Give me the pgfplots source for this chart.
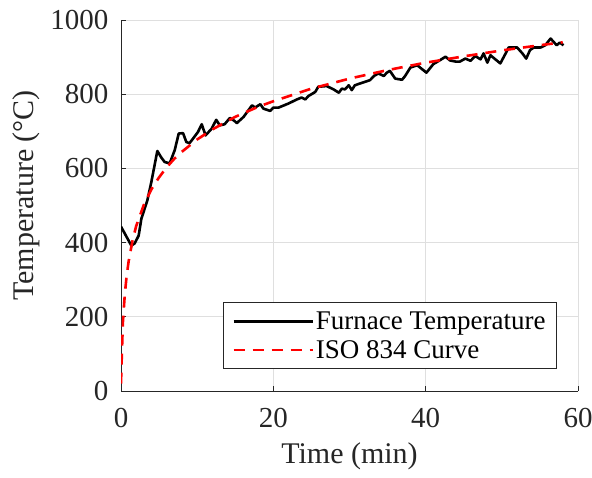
\documentclass[border=0pt]{standalone}
\usepackage{pgfplots}
\pgfplotsset{compat=1.18}
\usepackage{fontspec}
\setmainfont{Liberation Serif}
\definecolor{axgray}{HTML}{262626}
\definecolor{gridgray}{HTML}{DFDFDF}
\begin{document}
\begin{tikzpicture}
\begin{axis}[
  scale only axis,
  width=457pt, height=371pt,
  xmin=0, xmax=60, ymin=0, ymax=1000,
  xtick={0,20,40,60}, ytick={0,200,400,600,800,1000},
  axis x line*=bottom, axis y line*=left,
  axis line style={axgray, line width=0.9pt},
  tick align=inside,
  major tick length=5pt,
  tick style={axgray, line width=0.9pt},
  grid=major,
  major grid style={gridgray, line width=0.9pt},
  /pgf/number format/assume math mode=true,
  /pgf/number format/1000 sep={},
  ticklabel style={font=\fontsize{29}{34}\selectfont, text=axgray},
  xticklabel style={yshift=-14pt},
  yticklabel style={xshift=-9pt},
  label style={font=\fontsize{30}{36}\selectfont, text=axgray},
  xlabel={Time (min)},
  ylabel={Temperature (°C)},
  xlabel style={yshift=-8pt},
  ylabel style={yshift=4pt, xshift=10pt},
  legend style={at={(1,0)}, anchor=south east, xshift=-21pt, yshift=22pt,
    draw=axgray, line width=0.9pt, font=\fontsize{27}{30}\selectfont,
    inner xsep=9pt, inner ysep=7pt, row sep=5pt},
  legend cell align=left,
  legend image code/.code={\draw[#1] (0pt,0pt) -- (79pt,0pt);},
]
\addplot[black, line width=2.6pt, line join=round] coordinates {
(0,443) (1.36,392) (1.8,398) (2.32,419) (2.67,464) (3.46,514) (3.98,563)
(4.77,647) (5.3,629) (5.74,617) (6.4,614) (7.05,649) (7.58,694) (8.15,695)
(8.58,671) (9.0,668) (10.1,698) (10.6,719) (11.1,689) (11.9,707) (12.5,731)
(12.97,716) (13.6,719) (14.3,736) (14.9,728) (15.2,722) (16.1,739) (17.2,770)
(17.6,764) (18.3,773) (18.7,761) (19.6,755) (20.0,764) (20.7,764) (22.0,775)
(23.1,786) (23.7,791) (24.2,786) (24.6,795) (25.5,806) (25.9,820) (27.0,822)
(27.9,813) (28.6,804) (29.0,815) (29.4,813) (29.9,824) (30.3,811) (30.7,824)
(31.4,829) (32.7,838) (33.2,849) (33.8,856) (34.5,849) (34.9,858) (35.3,863)
(36.0,842) (36.9,839) (37.3,849) (38.0,872) (38.9,878) (40.1,858) (41.0,881)
(41.9,892) (42.6,901) (43.2,891) (43.9,888) (44.5,888) (45.2,896) (45.9,890)
(46.5,903) (47.2,894) (47.6,910) (48.1,885) (48.5,905) (49.8,883) (50.5,910)
(50.9,926) (52.0,926) (52.7,910) (53.2,896) (53.7,919) (54.2,926) (55.1,926)
(55.7,932) (56.4,950) (56.8,941) (57.2,932) (57.6,939) (58.1,932)
};
\addlegendentry{Furnace Temperature}
\addplot[red, line width=2.6pt, dash pattern=on 11pt off 8pt] coordinates {
(0,20) (0.1,91) (0.25,185) (0.5,261) (0.75,312) (1,349) (1.5,404) (2,445)
(3,502) (4,544) (5,576) (6,603) (7,626) (8,645) (10,678) (12,705) (15,739)
(18,766) (20,781) (25,815) (30,842) (35,865) (40,885) (45,902) (50,918)
(55,932) (58,940)
};
\addlegendentry{ISO 834 Curve}
\end{axis}
\pgfresetboundingbox
\path[use as bounding box] ([xshift=-121pt,yshift=-86pt]current axis.south west) rectangle ([xshift=14pt,yshift=20pt]current axis.north east);
\end{tikzpicture}
\end{document}
